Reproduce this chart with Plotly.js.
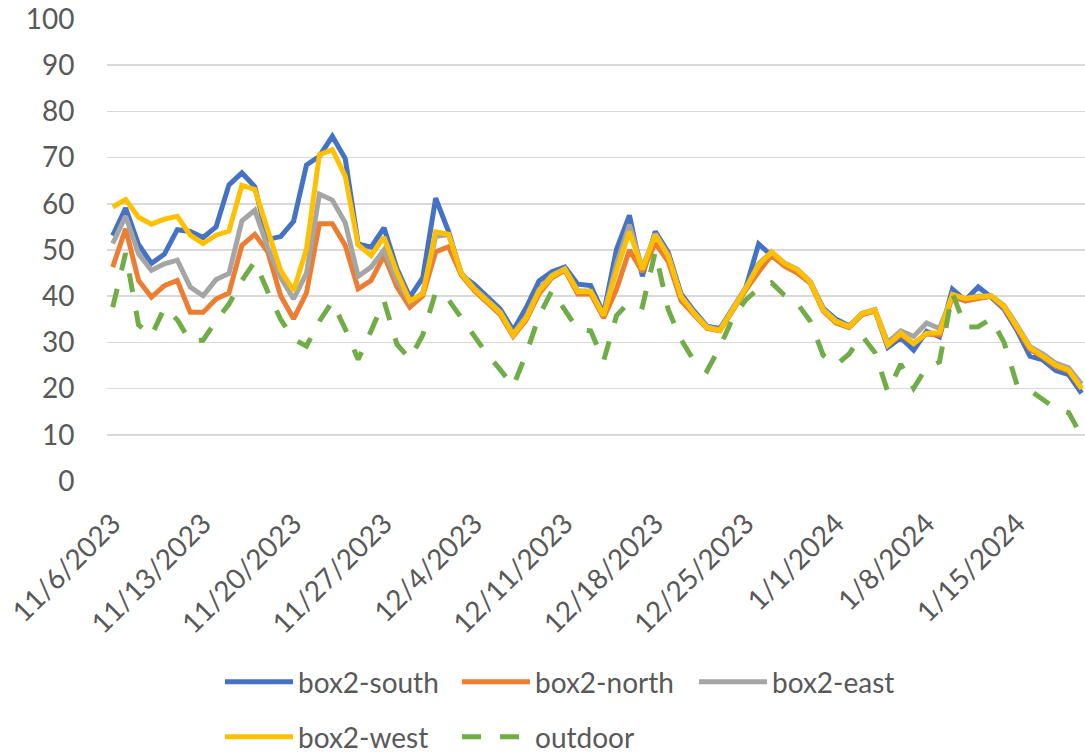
<!DOCTYPE html>
<html><head><meta charset="utf-8">
<script src="https://cdn.plot.ly/plotly-3.0.1.min.js"></script>
<style>html,body{margin:0;padding:0;background:#fff}#chart{width:1085px;height:756px}</style>
</head><body><div id="chart"></div>
<script>
const dates = [
'2023-11-06','2023-11-07','2023-11-08','2023-11-09','2023-11-10','2023-11-11','2023-11-12','2023-11-13','2023-11-14','2023-11-15',
'2023-11-16','2023-11-17','2023-11-18','2023-11-19','2023-11-20','2023-11-21','2023-11-22','2023-11-23','2023-11-24','2023-11-25',
'2023-11-26','2023-11-27','2023-11-28','2023-11-29','2023-11-30','2023-12-01','2023-12-02','2023-12-03','2023-12-04','2023-12-05',
'2023-12-06','2023-12-07','2023-12-08','2023-12-09','2023-12-10','2023-12-11','2023-12-12','2023-12-13','2023-12-14','2023-12-15',
'2023-12-16','2023-12-17','2023-12-18','2023-12-19','2023-12-20','2023-12-21','2023-12-22','2023-12-23','2023-12-24','2023-12-25',
'2023-12-26','2023-12-27','2023-12-28','2023-12-29','2023-12-30','2023-12-31','2024-01-01','2024-01-02','2024-01-03','2024-01-04',
'2024-01-05','2024-01-06','2024-01-07','2024-01-08','2024-01-09','2024-01-10','2024-01-11','2024-01-12','2024-01-13','2024-01-14',
'2024-01-15','2024-01-16','2024-01-17','2024-01-18','2024-01-19','2024-01-20'];

const tickDates = ['2023-11-06','2023-11-13','2023-11-20','2023-11-27','2023-12-04','2023-12-11','2023-12-18','2023-12-25','2024-01-01','2024-01-08','2024-01-15'];
const tickLabels = ['11/6/2023','11/13/2023','11/20/2023','11/27/2023','12/4/2023','12/11/2023','12/18/2023','12/25/2023','1/1/2024','1/8/2024','1/15/2024'];

const south = [53.1,59.1,51.2,47.1,49.1,54.4,54.0,52.7,55.0,64.1,
66.7,63.7,52.3,52.9,56.2,68.4,70.3,74.6,69.8,51.3,
50.6,54.8,46.0,39.8,44.0,61.2,54.0,44.6,42.5,39.8,
37.2,32.6,37.5,43.3,45.3,46.3,42.6,42.3,36.2,50.2,
57.5,44.3,54.0,49.5,40.5,36.8,33.5,33.0,37.3,41.8,
51.3,48.8,46.8,45.5,43.0,37.4,35.0,33.6,36.0,37.0,
28.9,31.0,28.3,32.4,31.2,41.5,39.1,42.0,39.8,37.2,
32.6,27.0,26.2,23.9,23.0,19.0];

const north = [46.3,54.6,43.4,39.8,42.3,43.4,36.5,36.5,39.4,40.7,
51.0,53.4,49.6,40.1,35.1,40.7,55.7,55.7,51.0,41.6,
43.4,48.8,42.0,37.6,40.1,49.6,50.7,44.5,41.2,38.7,
36.0,31.3,34.8,40.5,44.0,45.6,40.5,40.5,35.3,41.5,
50.0,45.3,51.5,47.5,39.0,36.0,33.0,32.5,37.0,41.3,
45.3,48.8,46.5,45.0,42.8,36.8,34.2,33.2,36.0,36.8,
29.5,31.6,29.8,31.8,31.6,39.8,39.0,39.4,40.0,37.5,
33.0,28.5,26.8,24.8,23.8,20.0];

const east = [51.4,57.3,49.2,45.6,47.0,47.8,42.0,40.1,43.6,44.9,
56.3,58.6,50.5,44.1,39.4,45.0,62.1,60.8,55.9,44.3,
46.3,50.0,43.5,38.7,40.7,53.0,53.3,45.0,41.7,39.2,
36.6,31.8,35.6,41.4,44.6,46.0,41.2,41.1,36.0,47.0,
55.5,46.0,53.5,48.9,40.0,36.4,33.4,32.7,37.2,41.8,
47.0,49.6,47.2,45.8,43.2,37.2,34.6,33.5,36.3,37.1,
30.0,32.5,31.3,34.2,33.0,40.0,39.5,40.0,40.1,38.0,
33.7,29.1,27.5,25.5,24.5,21.0];

const west = [59.3,60.9,57.1,55.6,56.7,57.3,53.2,51.4,53.2,54.1,
64.0,63.1,54.3,45.6,41.2,50.2,70.6,71.7,66.0,51.1,
48.8,52.8,45.2,39.0,40.5,53.9,53.4,44.8,41.5,39.0,
36.4,31.6,35.2,41.1,44.3,45.8,41.0,41.0,35.8,45.5,
54.0,45.8,53.3,48.7,39.9,36.3,33.2,32.6,37.1,41.7,
46.7,49.6,47.1,45.7,43.1,37.0,34.5,33.4,36.2,37.0,
29.4,32.0,29.7,32.0,32.1,40.4,39.5,39.8,40.1,37.8,
33.4,28.9,27.0,25.1,24.0,20.0];

const outdoor = [37.6,49.3,33.8,31.4,37.5,34.9,30.2,30.5,34.7,38.3,
43.4,47.5,41.0,35.0,30.7,29.2,34.6,38.8,32.9,26.3,
32.5,39.0,29.6,26.4,31.6,40.9,39.2,35.2,31.4,27.4,
24.1,20.5,27.5,35.7,41.2,37.2,32.8,32.5,26.0,35.8,
38.8,37.7,49.6,37.1,30.6,26.0,23.8,29.0,35.3,39.2,
41.7,42.9,40.2,38.4,34.6,27.2,25.1,27.5,31.5,27.8,
19.3,25.3,20.1,24.6,25.8,40.7,33.3,33.4,35.1,30.0,
20.8,19.6,17.7,15.7,14.8,9.7];

const seriesNames = ['box2-south','box2-north','box2-east','box2-west','outdoor'];

const PL = 107, PR = 1085, PT = 19, PB = 481;
const px2x = px => (px - PL) / (PR - PL);
const py2y = py => (PB - py) / (PB - PT);

function mk(name, y, color, legend, dash) {
  return {x: dates, y: y, name: name, type: 'scatter', mode: 'lines', legend: legend,
    line: {color: color, width: 5, dash: dash || 'solid'}};
}

const traces = [
  mk(seriesNames[0], south, '#4472C4', 'legend'),
  mk(seriesNames[1], north, '#ED7D31', 'legend'),
  mk(seriesNames[2], east, '#A5A5A5', 'legend'),
  mk(seriesNames[3], west, '#FFC000', 'legend2'),
  mk(seriesNames[4], outdoor, '#70AD47', 'legend2', '19px,19px')
];

const legendCommon = {orientation: 'h', xanchor: 'left', yanchor: 'middle',
  entrywidth: 154, entrywidthmode: 'pixels', itemwidth: 68,
  font: {family: 'Lato, sans-serif', size: 28, color: '#595959'}, bgcolor: 'rgba(0,0,0,0)'};

const layout = {
  width: 1085, height: 756,
  margin: {l: PL, r: 1085 - PR, t: PT, b: 756 - PB, autoexpand: false},
  paper_bgcolor: '#fff', plot_bgcolor: '#fff',
  font: {family: 'Lato, sans-serif', size: 28, color: '#595959'},
  showlegend: true,
  xaxis: {type: 'date', range: ['2023-11-05 13:24:00', '2024-01-20 06:19:00'], automargin: false,
    tickmode: 'array', tickvals: tickDates, ticktext: tickLabels, tickangle: -45,
    showgrid: false, zeroline: false, showline: false,
    ticks: 'outside', ticklen: 14, tickcolor: 'rgba(0,0,0,0)',
    tickfont: {family: 'Lato, sans-serif', size: 28, color: '#595959'}},
  yaxis: {range: [0, 100], tick0: 0, dtick: 10, showgrid: true, gridcolor: '#d9d9d9', gridwidth: 1.5,
    automargin: false, zeroline: false, showline: false, ticks: 'outside', ticklen: 26, tickcolor: 'rgba(0,0,0,0)',
    tickfont: {family: 'Lato, sans-serif', size: 28, color: '#595959'}},
  legend: Object.assign({x: px2x(220), y: py2y(682)}, legendCommon),
  legend2: Object.assign({x: px2x(220), y: py2y(737)}, legendCommon)
};

Plotly.newPlot('chart', traces, layout, {displayModeBar: false, staticPlot: true});
</script></body></html>
